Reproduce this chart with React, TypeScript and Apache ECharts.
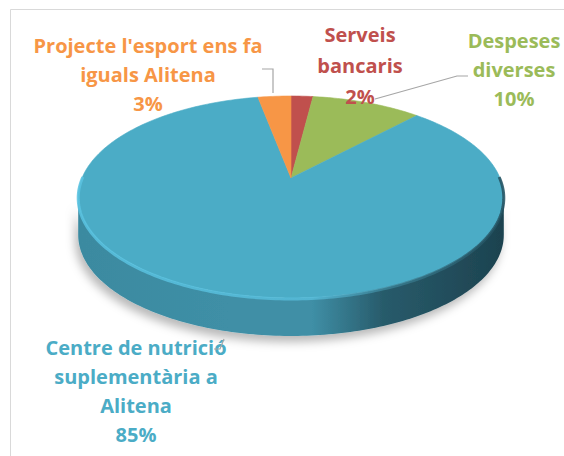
import React, { useEffect, useRef } from "react";
import * as echarts from "echarts";

// ---- data ----
const categories = [
  "Serveis\nbancaris",
  "Despeses\ndiverses",
  "Centre de nutrició\nsuplementària a\nAlitena",
  "Projecte l'esport ens fa\niguals Alitena",
];
const values = [2, 10, 85, 3];
const colors = ["#C0504D", "#9BBB59", "#4BACC6", "#F79646"];
const sideLight = ["#a0413f", "#81a04a", "#3b8aa0", "#d07c3a"];
const sideMid = ["#8a3634", "#6c8a3c", "#3f8fa6", "#b86c30"];
const sideDeep = ["#6a2a28", "#5a7432", "#285b6b", "#9a5a28"];
const sideDark = ["#5c2422", "#4c5e2b", "#1d4350", "#7c4a22"];

// ---- layout (positions only) ----
const CX = 291;
const CY = 178;
const RA = 209;
const RB = 97.4;
const KP = 0.188;
const DEPTH = 38;
const labelPos = [
  { x: 360, y: 65, lh: 31 },
  { x: 514, y: 69, lh: 29 },
  { x: 136, y: 391, lh: 29 },
  { x: 148, y: 74, lh: 29 },
];
const leaders = [
  null,
  [[468, 76], [457, 76], [375, 99]],
  [[214, 349], [220, 349], [224, 339]],
  [[262, 69], [273, 69], [273, 93]],
];

const total = values.reduce((a, b) => a + b, 0);
const startAngles: number[] = [];
{
  let acc = 0;
  for (const v of values) {
    startAngles.push((acc / total) * 360);
    acc += v;
  }
}
const VR = (Math.acos(-KP) * 180) / Math.PI;
const VL = 360 - VR;

function proj(deg: number, dy = 0): number[] {
  const t = (deg * Math.PI) / 180;
  const u = Math.sin(t);
  const v = Math.cos(t);
  const s = 1 + KP * v;
  return [CX + (RA * u) / s, CY - (RB * v) / s + dy];
}
function arc(a: number, b: number, dy = 0): number[][] {
  const n = Math.max(2, Math.ceil(Math.abs(b - a)));
  const pts: number[][] = [];
  for (let i = 0; i <= n; i++) pts.push(proj(a + ((b - a) * i) / n, dy));
  return pts;
}

export default function App() {
  const ref = useRef<HTMLDivElement>(null);
  useEffect(() => {
    document.body.style.margin = "0";
    const chart = echarts.init(ref.current!, null, { renderer: "svg" });
    const data = values.map((v) => [v]);

    const graphic: any[] = [
      {
        type: "rect",
        shape: { x: 10.5, y: 9.5, width: 620, height: 520 },
        style: { fill: "none", stroke: "#d9d9d9", lineWidth: 1 },
        silent: true,
        z: 0,
      },
    ];
    values.forEach((v, i) => {
      const pct = Math.round((v / total) * 100) + "%";
      graphic.push({
        type: "text",
        x: labelPos[i].x,
        y: labelPos[i].y,
        z: 10,
        style: {
          text: categories[i] + "\n" + pct,
          fill: colors[i],
          font: "bold 20px 'Open Sans'",
          lineHeight: labelPos[i].lh,
          align: "center",
          verticalAlign: "middle",
        },
      });
      const l = leaders[i];
      if (l) {
        graphic.push({
          type: "polyline",
          z: 10,
          shape: { points: l },
          style: { stroke: "#a6a6a6", lineWidth: 1.2, fill: "none" },
        });
      }
    });

    chart.setOption({
      animation: false,
      graphic,
      series: [
        {
          type: "custom",
          coordinateSystem: "none",
          z: 1,
          data,
          renderItem: (params: any, api: any) => {
            const i = params.dataIndex;
            const a0 = startAngles[i];
            const a1 = a0 + (api.value(0) / total) * 360;
            const lo = Math.max(a0, VR);
            const hi = Math.min(a1, VL);
            if (hi <= lo) return { type: "group", children: [] };
            const pts = arc(lo, hi, 0).concat(arc(hi, lo, DEPTH));
            return {
              type: "polygon",
              shape: { points: pts },
              style: {
                fill: {
                  type: "linear",
                  global: true,
                  x: CX - RA,
                  y: 0,
                  x2: CX + RA,
                  y2: 0,
                  colorStops: [
                    { offset: 0, color: sideLight[i] },
                    { offset: 0.35, color: sideMid[i] },
                    { offset: 0.55, color: sideMid[i] },
                    { offset: 0.72, color: sideDeep[i] },
                    { offset: 1, color: sideDark[i] },
                  ],
                },
                shadowBlur: 10,
                shadowOffsetX: -3,
                shadowOffsetY: 6,
                shadowColor: "rgba(0,0,0,0.28)",
              },
            };
          },
        },
        {
          type: "custom",
          coordinateSystem: "none",
          z: 2,
          data,
          renderItem: (params: any, api: any) => {
            const i = params.dataIndex;
            const a0 = startAngles[i];
            const a1 = a0 + (api.value(0) / total) * 360;
            const pts = [[CX, CY]].concat(arc(a0, a1, 0));
            return {
              type: "polygon",
              shape: { points: pts },
              style: { fill: colors[i], stroke: colors[i], lineWidth: 0.6 },
            };
          },
        },
        {
          type: "custom",
          coordinateSystem: "none",
          z: 3,
          data,
          renderItem: (params: any, api: any) => {
            const i = params.dataIndex;
            const a0 = startAngles[i];
            const a1 = a0 + (api.value(0) / total) * 360;
            const lo = Math.max(a0, VR - 12);
            const hi = Math.min(a1, VL + 12);
            if (hi <= lo) return { type: "group", children: [] };
            return {
              type: "polyline",
              shape: { points: arc(lo, hi, 1) },
              style: {
                fill: "none",
                lineWidth: 3,
                stroke: {
                  type: "linear",
                  global: true,
                  x: CX - RA,
                  y: 0,
                  x2: CX + RA,
                  y2: 0,
                  colorStops: [
                    { offset: 0, color: "rgba(90,195,225,0.85)" },
                    { offset: 0.55, color: "rgba(88,190,220,0.8)" },
                    { offset: 0.75, color: "rgba(60,130,150,0.7)" },
                    { offset: 1, color: "rgba(35,80,95,0.85)" },
                  ],
                },
              },
            };
          },
        },
      ],
    });
    return () => chart.dispose();
  }, []);
  return <div ref={ref} style={{ width: 564, height: 456 }} />;
}
